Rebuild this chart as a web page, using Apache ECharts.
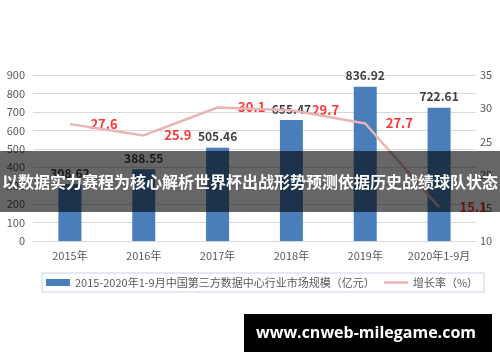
<!DOCTYPE html>
<html>
<head>
<meta charset="utf-8">
<script src="https://cdn.jsdelivr.net/npm/echarts@6/dist/echarts.min.js"></script>
<style>
html,body{margin:0;padding:0;background:#fff;}
#chart{width:500px;height:362px;}
</style>
</head>
<body>
<div id="chart"></div>
<script>
var categories = ['2015年','2016年','2017年','2018年','2019年','2020年1-9月'];
var marketSize = [308.62, 388.55, 505.46, 655.47, 836.92, 722.61];
var growthRate = [27.6, 25.9, 30.1, 29.7, 27.7, 15.1];
var barName = '2015-2020年1-9月中国第三方数据中心行业市场规模（亿元）';
var lineName = '增长率（%）';
var bannerText = '以数据实力赛程为核心解析世界杯出战形势预测依据历史战绩球队状态';
var watermarkText = 'www.cnweb-milegame.com';

var font = '"Noto Sans CJK SC", "Noto Sans", sans-serif';
var chart = echarts.init(document.getElementById('chart'));
chart.setOption({
  animation: false,
  textStyle: {fontFamily: font},
  grid: {left: 33, right: 24, top: 75, bottom: 121},
  legend: {
    left: 42, top: 273,
    itemWidth: 24, itemHeight: 7, itemGap: 8,
    padding: [4, 6, 4, 4],
    borderColor: '#c8d3e6', borderWidth: 1,
    textStyle: {color: '#595959', fontSize: 11, fontFamily: font},
    data: [{name: barName, icon: 'rect'},
           {name: lineName, itemStyle: {opacity: 0}, lineStyle: {color: '#e8b4b4', width: 2.5}}]
  },
  xAxis: {
    type: 'category', data: categories,
    axisLine: {lineStyle: {color: '#d9d9d9'}},
    axisTick: {show: false},
    axisLabel: {color: '#595959', fontSize: 11, margin: 9, interval: 0}
  },
  yAxis: [
    {type: 'value', min: 0, max: 900, interval: 100,
     axisLine: {show: false}, axisTick: {show: false},
     axisLabel: {color: '#595959', fontSize: 11, margin: 8},
     splitLine: {lineStyle: {color: '#d9d9d9', width: 1}}},
    {type: 'value', min: 10, max: 35, interval: 5,
     axisLine: {show: false}, axisTick: {show: false},
     axisLabel: {color: '#595959', fontSize: 11, margin: 4},
     splitLine: {show: false}}
  ],
  series: [
    {name: barName, type: 'bar', data: marketSize, barWidth: 23,
     itemStyle: {color: '#4a7ebb'},
     label: {show: true, position: 'top', distance: 5, color: '#404040', fontSize: 12, fontWeight: 600}},
    {name: lineName, type: 'line', yAxisIndex: 1, data: growthRate,
     symbol: 'none', lineStyle: {color: '#e8b4b4', width: 2.5},
     itemStyle: {color: '#e8b4b4'}},
    {name: 'rateLabels', type: 'scatter', yAxisIndex: 1, data: growthRate,
     symbolSize: 1, itemStyle: {color: 'rgba(0,0,0,0)'}, silent: true,
     label: {show: true, position: 'right', distance: 20, color: '#ff0000', fontSize: 13, fontWeight: 'bold'}}
  ],
  graphic: [
    {type: 'rect', left: 0, top: 151, z: 100, shape: {width: 500, height: 61}, style: {fill: 'rgba(0,0,0,0.6)'}},
    {type: 'text', left: 'center', top: 174, z: 101,
     style: {text: bannerText, fill: '#fff', font: 'bold 16px ' + font}},
    {type: 'rect', left: 244, top: 314, z: 100, shape: {width: 248, height: 38}, style: {fill: '#000'}},
    {type: 'text', z: 101, x: 366, y: 333,
     style: {text: watermarkText, fill: '#fff', font: 'bold 16px "Open Sans", "DejaVu Sans", sans-serif', align: 'center', verticalAlign: 'middle'}}
  ]
});
</script>
</body>
</html>
